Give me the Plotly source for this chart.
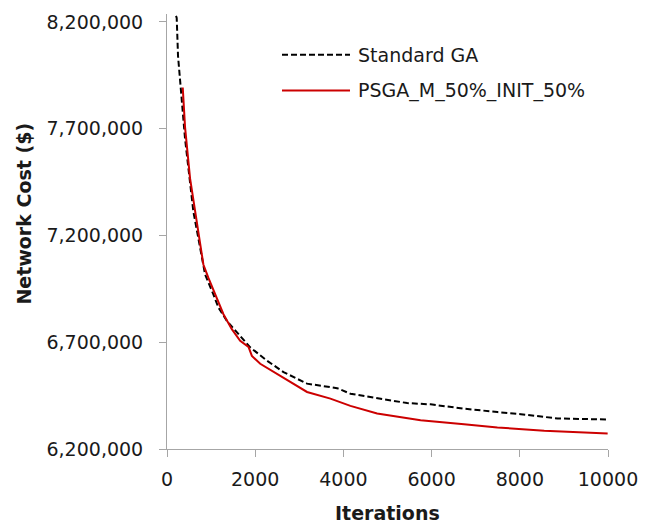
import plotly.graph_objects as go

# Standard GA (black dashed)
ga_iter = [205, 220, 250, 295, 409, 598, 750, 864, 1052, 1166, 1357, 1584, 1886, 2266, 2643,
           3175, 3630, 3857, 4159, 4841, 5447, 5977, 6735, 7492, 8023, 8856, 9992]
ga_cost = [8228000, 8219000, 8040000, 7932000, 7653000, 7312000, 7141000, 7017000, 6924000,
           6862000, 6800000, 6746000, 6676000, 6614000, 6560000, 6506000, 6490000, 6485000,
           6459000, 6436000, 6415000, 6409000, 6389000, 6373000, 6363000, 6343000, 6338000]

# PSGA_M_50%_INIT_50% (red solid)
ps_iter = [357, 409, 523, 675, 766, 825, 939, 1130, 1280, 1470, 1659, 1848, 1925, 2114, 2493,
           2795, 3175, 3705, 4159, 4765, 5750, 6735, 7492, 8553, 9462, 9992]
ps_cost = [7893000, 7707000, 7467000, 7270000, 7141000, 7064000, 7001000, 6908000, 6831000,
           6761000, 6707000, 6678000, 6636000, 6599000, 6552000, 6513000, 6467000, 6436000,
           6402000, 6366000, 6335000, 6316000, 6301000, 6285000, 6279000, 6273000]

series_names = ["Standard GA", "PSGA_M_50%_INIT_50%"]
y_ticks = [6200000, 6700000, 7200000, 7700000, 8200000]
x_ticks = [0, 2000, 4000, 6000, 8000, 10000]

FONT = "DejaVu Sans"
TXT = "#1a1a1a"
AX = "#a6a6a6"
DASH = "6px,3px"

fig = go.Figure()
fig.add_trace(go.Scatter(x=ga_iter, y=ga_cost, mode="lines", name=series_names[0],
                         line=dict(color="black", width=2, dash=DASH), showlegend=False))
fig.add_trace(go.Scatter(x=ps_iter, y=ps_cost, mode="lines", name=series_names[1],
                         line=dict(color="#cc0000", width=2), showlegend=False))

W, H = 652, 527
L, R, T, B = 167, 44, 11, 78
pw, ph = W - L - R, H - T - B

def px_to_paper(x, y):
    return (x - L) / pw, (H - B - y) / ph

# manual legend
leg = [(52, dict(color="black", width=2, dash=DASH)), (88, dict(color="#cc0000", width=2))]
for (yy, ln), name in zip(leg, series_names):
    x0, y0 = px_to_paper(282, yy)
    x1, _ = px_to_paper(350, yy)
    fig.add_shape(type="line", xref="paper", yref="paper", x0=x0, x1=x1, y0=y0, y1=y0, line=ln)
    tx, _ = px_to_paper(356, yy)
    fig.add_annotation(xref="paper", yref="paper", x=tx, y=y0, text=name, showarrow=False,
                       xanchor="left", yanchor="middle", font=dict(family=FONT, size=19, color=TXT))

# axis titles
ax_, ay_ = px_to_paper(24, 212)
fig.add_annotation(xref="paper", yref="paper", x=ax_, y=ay_, text="<b>Network Cost ($)</b>",
                   textangle=-90, showarrow=False, xanchor="center", yanchor="middle",
                   font=dict(family=FONT, size=19, color=TXT))
bx_, by_ = px_to_paper(387.5, 513)
fig.add_annotation(xref="paper", yref="paper", x=bx_, y=by_, text="<b>Iterations</b>",
                   showarrow=False, xanchor="center", yanchor="middle",
                   font=dict(family=FONT, size=19, color=TXT))

fig.update_layout(
    width=W, height=H,
    margin=dict(l=L, r=R, t=T, b=B, pad=0),
    paper_bgcolor="white", plot_bgcolor="white",
    font=dict(family=FONT, size=19, color=TXT),
    xaxis=dict(range=[0, 10000], tickvals=x_ticks, ticktext=[str(v) for v in x_ticks],
               showgrid=False, zeroline=False, showline=True, linecolor=AX, linewidth=1,
               ticks="outside", ticklen=7, tickcolor=AX, ticklabelstandoff=6,
               tickfont=dict(family=FONT, size=19, color=TXT)),
    yaxis=dict(range=[6200000, 8237000], tickvals=y_ticks, tickformat=",",
               showgrid=False, zeroline=False, showline=True, linecolor=AX, linewidth=1,
               ticks="outside", ticklen=7, tickcolor=AX, ticklabelstandoff=12,
               tickfont=dict(family=FONT, size=19, color=TXT)),
)

fig.write_html("out.html")
